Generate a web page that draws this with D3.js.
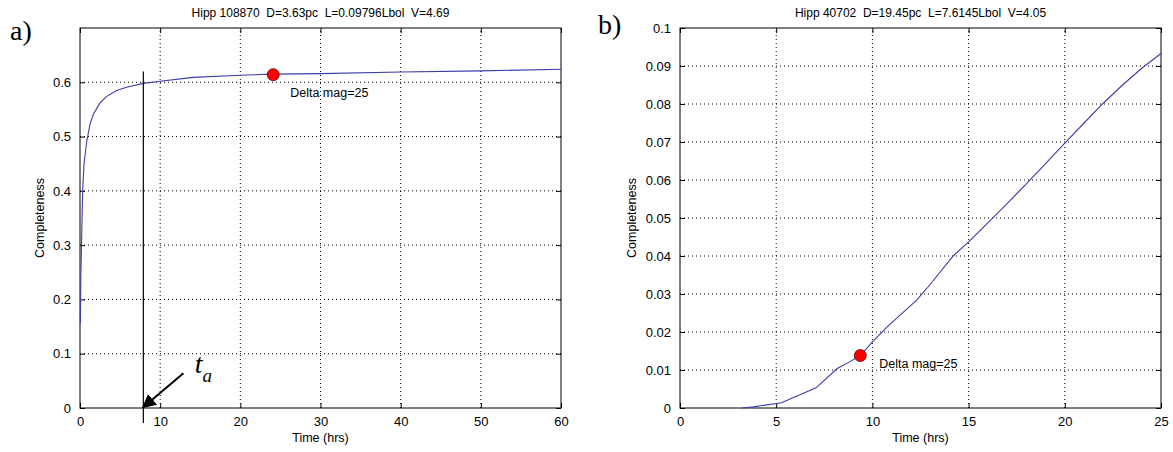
<!DOCTYPE html>
<html>
<head>
<meta charset="utf-8">
<script src="https://cdn.jsdelivr.net/npm/d3@7"></script>
<style>
  body { margin: 0; background: #fff; }
  text { font-family: "Liberation Sans", Arial, sans-serif; font-size: 12px; fill: #000; }
  .pre { white-space: pre; }
</style>
</head>
<body>
<svg width="1173" height="452"></svg>
<script>
// panel a
var aTitle = "Hipp 108870  D=3.63pc  L=0.09796Lbol  V=4.69";
var aTime = [0.05, 0.1, 0.2, 0.33, 0.5, 0.83, 1.25, 1.66, 2.5, 3.33, 4.57, 5.8, 7.9, 10, 14.1, 20, 24.1, 30, 40, 50, 60];
var aComp = [0.156, 0.24, 0.308, 0.4, 0.45, 0.49, 0.523, 0.541, 0.562, 0.574, 0.585, 0.591, 0.598, 0.602, 0.609, 0.613, 0.615, 0.616, 0.619, 0.621, 0.624];
var aXTicks = [0, 10, 20, 30, 40, 50, 60];
var aYTicks = [0, 0.1, 0.2, 0.3, 0.4, 0.5, 0.6];
var aDot = {t: 24.1, c: 0.614};
var aLimit = 7.9; // t_a

// panel b
var bTitle = "Hipp 40702  D=19.45pc  L=7.6145Lbol  V=4.05";
var bTime = [3.24, 3.83, 5.27, 7.07, 8.17, 8.84, 9.37, 10, 10.78, 12.3, 13, 14.2, 15, 16, 17, 18, 19, 20, 21, 22, 23, 24, 25];
var bComp = [0, 0.0003, 0.0014, 0.0053, 0.0104, 0.0122, 0.0138, 0.0174, 0.0214, 0.0284, 0.0325, 0.040, 0.0437, 0.0487, 0.0538, 0.059, 0.0643, 0.0697, 0.075, 0.0802, 0.085, 0.0894, 0.0933];
var bXTicks = [0, 5, 10, 15, 20, 25];
var bYTicks = [0, 0.01, 0.02, 0.03, 0.04, 0.05, 0.06, 0.07, 0.08, 0.09, 0.1];
var bDot = {t: 9.37, c: 0.0138};

var svg = d3.select("svg");
var lineColor = "#3c3caa";

function panel(opts) {
  var x = d3.scaleLinear().domain(opts.xDomain).range([opts.left, opts.right]);
  var y = d3.scaleLinear().domain(opts.yDomain).range([408, 28]);
  var g = svg.append("g");

  // grid
  g.selectAll(".gx").data(opts.xTicks.slice(1, -1)).enter().append("line")
    .attr("x1", d => x(d)).attr("x2", d => x(d))
    .attr("y1", y.range()[0]).attr("y2", y.range()[1])
    .attr("stroke", "#000").attr("stroke-dasharray", "1,3");
  g.selectAll(".gy").data(opts.yTicks.filter(d => d > opts.yDomain[0] && d < opts.yDomain[1])).enter().append("line")
    .attr("y1", d => y(d)).attr("y2", d => y(d))
    .attr("x1", x.range()[0]).attr("x2", x.range()[1])
    .attr("stroke", "#000").attr("stroke-dasharray", "1,3");

  // axes, ticks inward on all four sides
  var fmt = d => d3.format("~g")(d);
  g.append("g").attr("transform", "translate(0,408)")
    .call(d3.axisBottom(x).tickValues(opts.xTicks).tickSizeInner(-5).tickSizeOuter(0).tickPadding(9).tickFormat(fmt));
  g.append("g").attr("transform", "translate(0,28)")
    .call(d3.axisTop(x).tickValues(opts.xTicks).tickSizeInner(-5).tickSizeOuter(0).tickFormat(""));
  g.append("g").attr("transform", "translate(" + opts.left + ",0)")
    .call(d3.axisLeft(y).tickValues(opts.yTicks).tickSizeInner(-5).tickSizeOuter(0).tickPadding(9).tickFormat(fmt));
  g.append("g").attr("transform", "translate(" + opts.right + ",0)")
    .call(d3.axisRight(y).tickValues(opts.yTicks).tickSizeInner(-5).tickSizeOuter(0).tickFormat(""));
  g.selectAll(".domain").remove();
  g.selectAll(".tick text").style("font-family", "Liberation Sans, Arial, sans-serif").style("font-size", "13px").attr("fill", "#000");
  g.append("rect").attr("x", opts.left).attr("y", 28)
    .attr("width", opts.right - opts.left).attr("height", 380)
    .attr("fill", "none").attr("stroke", "#000");

  // curve
  var pts = opts.time.map((t, i) => [t, opts.comp[i]]);
  g.append("path").datum(pts)
    .attr("d", d3.line().x(d => x(d[0])).y(d => y(d[1])))
    .attr("fill", "none").attr("stroke", lineColor).attr("stroke-width", 1.1);

  // marker
  g.append("circle").attr("cx", x(opts.dot.t)).attr("cy", y(opts.dot.c)).attr("r", 6)
    .attr("fill", "#ff0000").attr("stroke", "#600").attr("stroke-width", 0.8);
  g.append("text").attr("x", x(opts.dot.t) + opts.labelDx).attr("y", y(opts.dot.c) + opts.labelDy)
    .style("font-size", "12.5px").text("Delta mag=25");

  // titles
  var cx = (opts.left + opts.right) / 2;
  svg.append("text").attr("class", "pre").attr("x", cx).attr("y", 17)
    .attr("text-anchor", "middle").text(opts.title);
  svg.append("text").attr("x", cx).attr("y", 442)
    .attr("text-anchor", "middle").style("font-size", "12.5px").text("Time (hrs)");
  svg.append("text").attr("transform", "translate(" + opts.ylabX + ",218) rotate(-90)")
    .attr("text-anchor", "middle").style("font-size", "12.5px").text("Completeness");
  svg.append("text").attr("x", opts.tagX).attr("y", opts.tagY)
    .style("font-family", "Liberation Serif, Times New Roman, serif").style("font-size", "28px")
    .text(opts.tag);

  return {x: x, y: y, g: g};
}

var pa = panel({
  left: 80, right: 561, xDomain: [0, 60], yDomain: [0, 0.7],
  xTicks: aXTicks, yTicks: aYTicks, time: aTime, comp: aComp,
  dot: aDot, labelDx: 17, labelDy: 22, title: aTitle, ylabX: 44, tag: "a)", tagX: 10, tagY: 40
});
var pb = panel({
  left: 680, right: 1161, xDomain: [0, 25], yDomain: [0, 0.1],
  xTicks: bXTicks, yTicks: bYTicks, time: bTime, comp: bComp,
  dot: bDot, labelDx: 19, labelDy: 12, title: bTitle, ylabX: 636, tag: "b)", tagX: 598, tagY: 34
});

// t_a annotation in panel a
svg.append("defs").append("marker").attr("id", "head")
  .attr("viewBox", "0 0 10 10").attr("refX", 9).attr("refY", 5)
  .attr("markerWidth", 7).attr("markerHeight", 7).attr("orient", "auto")
  .append("path").attr("d", "M0,0 L10,5 L0,10 z").attr("fill", "#000");

pa.g.append("line")
  .attr("x1", pa.x(aLimit)).attr("x2", pa.x(aLimit))
  .attr("y1", pa.y(0.62)).attr("y2", pa.y(0) + 15)
  .attr("stroke", "#000").attr("stroke-width", 1.2);
pa.g.append("line")
  .attr("x1", pa.x(12.9)).attr("y1", pa.y(0.064))
  .attr("x2", pa.x(7.85)).attr("y2", pa.y(0.001))
  .attr("stroke", "#000").attr("stroke-width", 2).attr("marker-end", "url(#head)");
var ta = pa.g.append("text").attr("x", pa.x(14.3)).attr("y", pa.y(0.064))
  .style("font-family", "Liberation Serif, Times New Roman, serif").style("font-style", "italic").style("font-size", "28px");
ta.append("tspan").text("t");
ta.append("tspan").attr("dy", 9).style("font-size", "19px").text("a");
</script>
</body>
</html>
